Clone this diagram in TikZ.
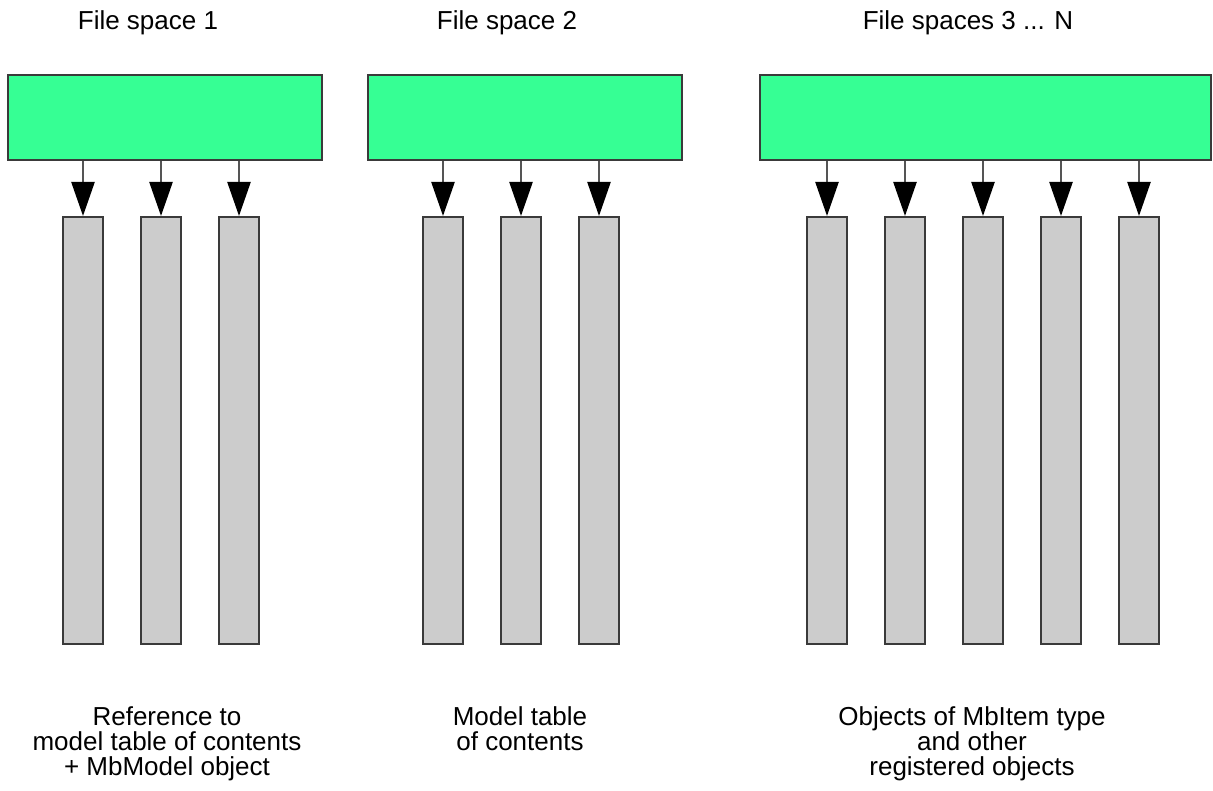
\documentclass[tikz,border=0pt]{standalone}
\usepackage{fontspec}
\setmainfont{Liberation Sans}
\usetikzlibrary{arrows.meta}
\definecolor{boxgreen}{HTML}{36FF94}
\definecolor{bargray}{HTML}{CCCCCC}
\definecolor{edgegray}{HTML}{3A3A3A}
\definecolor{linegray}{HTML}{555555}
\tikzset{
  spacebox/.style={draw=edgegray, line width=1.6pt, fill=boxgreen, inner sep=0pt, minimum height=85pt},
  bar/.style={draw=edgegray, line width=1.6pt, fill=bargray, inner sep=0pt, minimum width=40pt, minimum height=427pt, anchor=north},
  link/.style={draw=linegray, line width=2.4pt, -{Triangle[width=23pt,length=34pt,fill=black,color=black]}},
  title/.style={font=\fontsize{26}{25}\selectfont, inner sep=0pt, anchor=base},
  caption/.style={font=\fontsize{26}{25}\selectfont, inner sep=0pt, anchor=north, align=center}
}
\begin{document}
\begin{tikzpicture}[x=1pt,y=-1pt]
\useasboundingbox (0,0) rectangle (1213,791);
% titles
\node[title] (t1) at (148,30) {File space 1};
\node[title] (t2) at (507,30) {File space 2};
\node[title] (t3) at (968,30) {File spaces 3 ... N};
% green boxes
\node[spacebox, minimum width=314pt] (g1) at (165,117.5) {};
\node[spacebox, minimum width=314pt] (g2) at (525,117.5) {};
\node[spacebox, minimum width=451pt] (g3) at (985.5,117.5) {};
% bars
\foreach \n/\x in {a1/83, a2/161, a3/239, b1/443, b2/521, b3/599, c1/827, c2/905, c3/983, c4/1061, c5/1139} {
  \node[bar] (\n) at (\x,216) {};
}
% arrows
\foreach \n/\g in {a1/g1,a2/g1,a3/g1,b1/g2,b2/g2,b3/g2,c1/g3,c2/g3,c3/g3,c4/g3,c5/g3} {
  \draw[link] (\n.north |- \g.south) -- (\n.north);
}
% captions
\node[caption] (l1) at (167,706) {Reference to\\model table of contents\\+ MbModel object};
\node[caption] (l2) at (520,706) {Model table\\of contents};
\node[caption] (l3) at (972,706) {Objects of MbItem type\\and other\\registered objects};
\end{tikzpicture}
\end{document}
